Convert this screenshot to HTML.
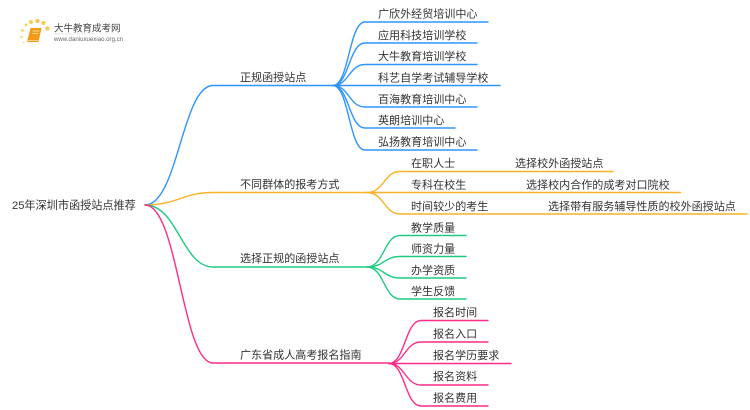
<!DOCTYPE html>
<html lang="zh"><head><meta charset="utf-8"><style>
html,body{margin:0;padding:0;background:#fff;width:750px;height:410px;overflow:hidden}
svg{display:block;filter:blur(.3px)}
text{font-family:"Liberation Sans","Noto Sans CJK SC",sans-serif;fill:#333;font-size:11.05px}
path{fill:none;stroke-width:1.4;stroke-linecap:round}
.b path{stroke:#2f95ff}.o path{stroke:#fdb026}.g path{stroke:#1fcb82}.p path{stroke:#ff2d88}
</style></head><body>
<svg width="750" height="410" viewBox="0 0 750 410" xmlns="http://www.w3.org/2000/svg">
<defs><linearGradient id="lg" x1="0" x2="1"><stop offset="0" stop-color="#ddd"/><stop offset="1" stop-color="#fff"/></linearGradient></defs>
<!-- logo -->
<g>
<circle cx="31" cy="22" r="2" fill="#fbc94f"/>
<circle cx="37.500" cy="21" r="2.100" fill="#fbc23f"/>
<circle cx="26" cy="25" r="1.500" fill="#fbd35f"/><circle cx="22.500" cy="30.500" r="1.400" fill="#fbd35f"/>
<circle cx="21.500" cy="37" r="1.200" fill="#fbd76f"/><circle cx="23.500" cy="42.500" r="1" fill="#fbdf8f"/>
<circle cx="43.500" cy="23" r="2.100" fill="#fbc94f"/><circle cx="47.500" cy="28.500" r="2.200" fill="#fbc94f"/>
<path d="M30.500 28 L41.500 28 L38.500 42 L27 42 Z" style="fill:#f59a16;stroke:none"/>
<path d="M33 31 L39 31 M32.500 33.500 L38 33.500" style="stroke:#ffd58a;stroke-width:1"/>
<path d="M27.500 40.500 L37.500 40.500" style="stroke:#ffd58a;stroke-width:1"/>
<text x="54" y="31.500" style="font-size:9.500px;fill:#444">大牛教育成考网</text>
<rect x="54" y="33.500" width="80" height="0.800" fill="url(#lg)"/>
<text x="54" y="41" style="font-size:6.100px;fill:#666">www.daniuxuexiao.org.cn</text>
</g>
<!-- root -->
<text x="12" y="209" style="font-size:11.150px">25年深圳市函授站点推荐</text>
<g class="b">
<path d="M145 205 C178 205 182 85.500 213 85.500 L332 85.500"/>
<path d="M333 85.500 C349 85.500 349 22 365 22 L488 22"/>
<path d="M333 85.500 C349 85.500 349 43 365 43 L477 43"/>
<path d="M333 85.500 C349 85.500 349 64.500 365 64.500 L477 64.500"/>
<path d="M332 85.500 L500 85.500"/>
<path d="M333 85.500 C349 85.500 349 107 365 107 L477 107"/>
<path d="M333 85.500 C349 85.500 349 128 365 128 L455 128"/>
<path d="M333 85.500 C349 85.500 349 150 365 150 L477 150"/>
</g>
<g class="o">
<path d="M145 205 C178 205 182 192.500 213 192.500 L367 192.500"/>
<path d="M367 192.500 C384 192.500 384 171.500 400 171.500 L613 171.500"/>
<path d="M367 192.500 L680.500 192.500"/>
<path d="M367 192.500 C384 192.500 384 214 400 214 L747 214"/>
</g>
<g class="g">
<path d="M145 205 C178 205 182 267 213 267 L367 267"/>
<path d="M367 267 C384 267 384 235.500 400 235.500 L466 235.500"/>
<path d="M367 267 C384 267 384 256.500 400 256.500 L466 256.500"/>
<path d="M367 267 C384 267 384 278 400 278 L466 278"/>
<path d="M367 267 C384 267 384 299 400 299 L466 299"/>
</g>
<g class="p">
<path d="M145 205 C178 205 182 363 213 363 L389 363"/>
<path d="M389 363.500 C405 363.500 405 320.500 421 320.500 L488 320.500"/>
<path d="M389 363.500 C405 363.500 405 342 421 342 L488 342"/>
<path d="M389 363.500 L511 363.500"/>
<path d="M389 363.500 C405 363.500 405 385 421 385 L488 385"/>
<path d="M389 363.500 C405 363.500 405 406 421 406 L488 406"/>
</g>
<text x="240" y="81">正规函授站点</text>
<text x="240" y="188">不同群体的报考方式</text>
<text x="240" y="262">选择正规的函授站点</text>
<text x="240" y="358.500">广东省成人高考报名指南</text>
<text x="378" y="17.500">广欣外经贸培训中心</text>
<text x="378" y="39">应用科技培训学校</text>
<text x="378" y="60">大牛教育培训学校</text>
<text x="378" y="81.500">科艺自学考试辅导学校</text>
<text x="378" y="103">百海教育培训中心</text>
<text x="378" y="124">英朗培训中心</text>
<text x="378" y="145.500">弘扬教育培训中心</text>
<text x="411" y="167">在职人士</text>
<text x="411" y="188.500">专科在校生</text>
<text x="411" y="210">时间较少的考生</text>
<text x="515" y="167">选择校外函授站点</text>
<text x="526" y="188.500">选择校内合作的成考对口院校</text>
<text x="548" y="210">选择带有服务辅导性质的校外函授站点</text>
<text x="411" y="231.500">教学质量</text>
<text x="411" y="252.500">师资力量</text>
<text x="411" y="274">办学资质</text>
<text x="411" y="295">学生反馈</text>
<text x="433" y="316">报名时间</text>
<text x="433" y="337.500">报名入口</text>
<text x="433" y="359">报名学历要求</text>
<text x="433" y="380">报名资料</text>
<text x="433" y="401.500">报名费用</text>
</svg>
</body></html>
